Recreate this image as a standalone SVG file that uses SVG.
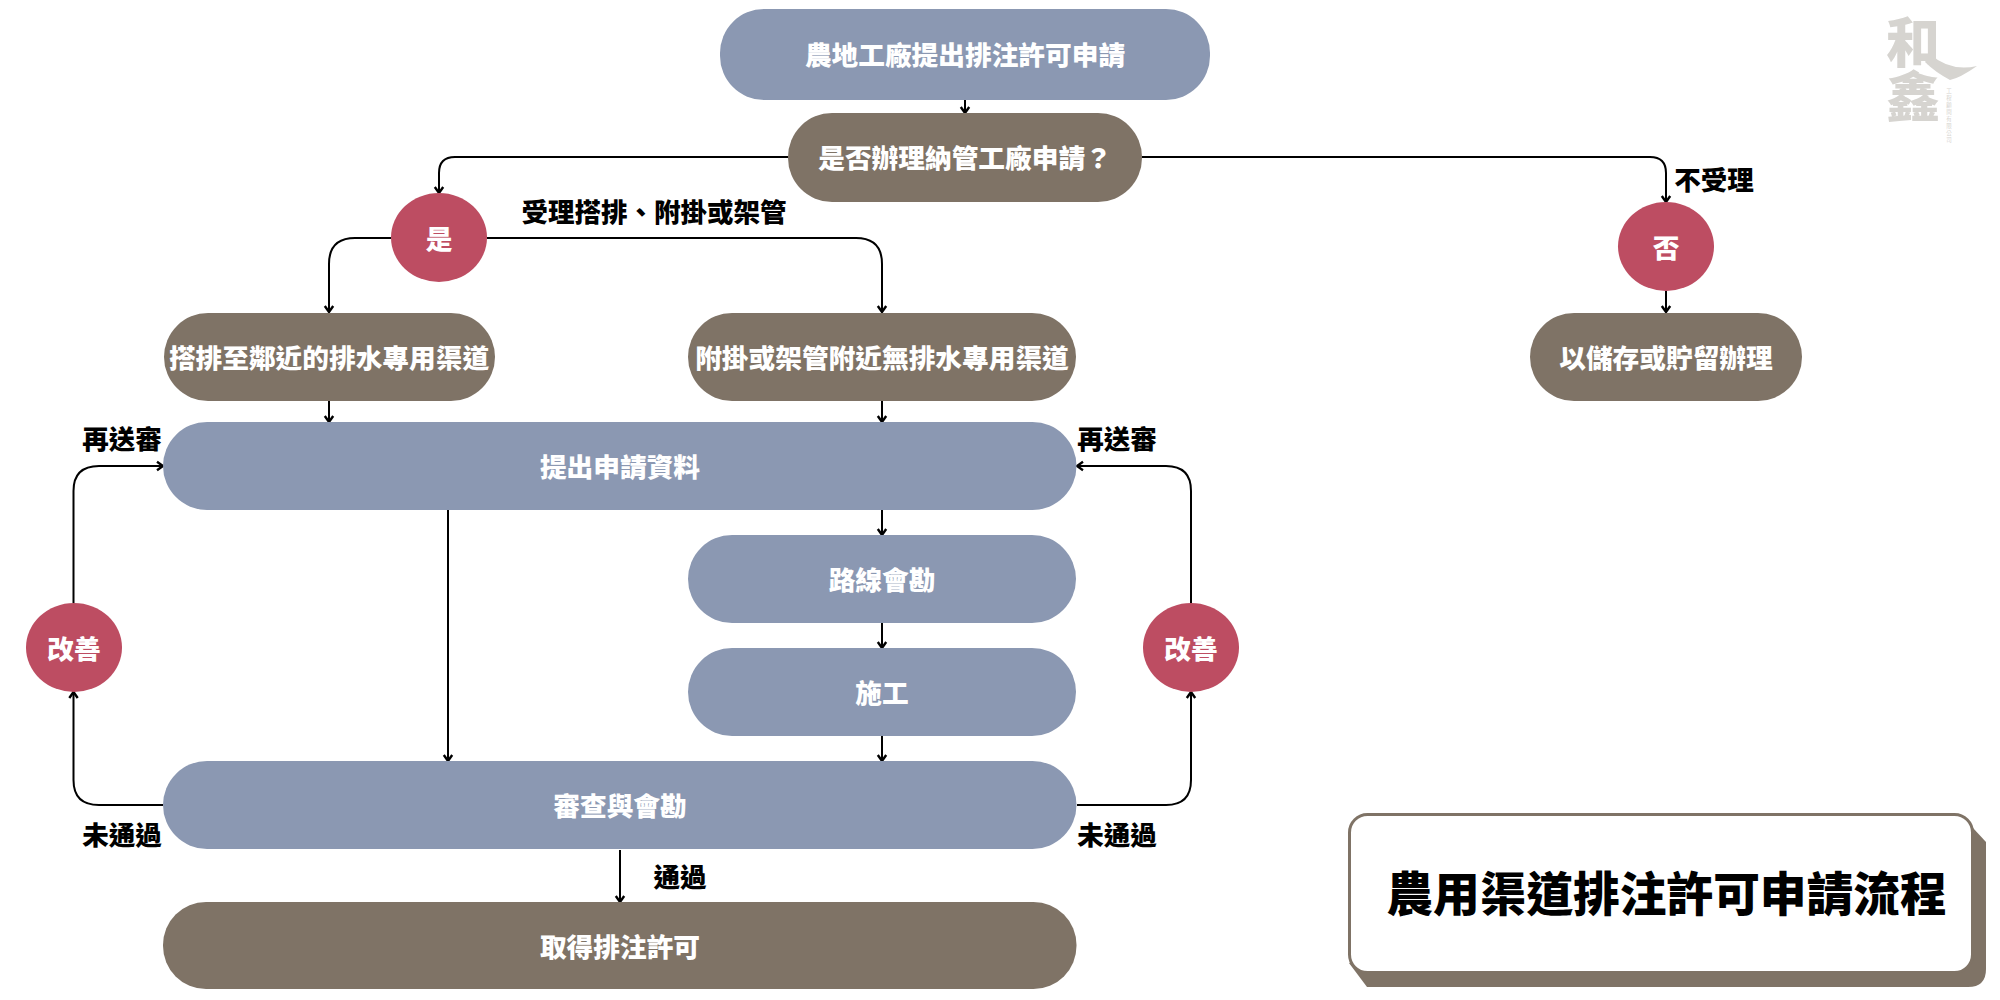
<svg xmlns="http://www.w3.org/2000/svg" width="2000" height="1000" viewBox="0 0 2000 1000">
<style>
text{font-family:"Noto Sans CJK TC","Noto Sans CJK SC",sans-serif;text-anchor:middle;dominant-baseline:central}
.w{fill:#fff;font-size:26.7px;font-weight:900}
.b{fill:#000;font-size:26.5px;font-weight:900}
.blue{fill:#8b98b2}.brown{fill:#7f7366}.red{fill:#bd4d62}
#connectors path{fill:none;stroke:#000;stroke-width:2}
.a{marker-end:url(#arrow)}
.logo{fill:#d6d4d0}
</style>
<defs>
<marker id="arrow" markerUnits="userSpaceOnUse" markerWidth="12" markerHeight="12" refX="8" refY="5" orient="auto" viewBox="0 0 10 10">
<path d="M3 1.500L8 5L3 8.500" fill="none" stroke="#000" stroke-width="2"/>
</marker>
</defs>
<rect width="2000" height="1000" fill="#fff"/>
<g id="connectors">
<path class="a" d="M965 100V113"/>
<path class="a" d="M788 157H455Q439 157 439 173V193"/>
<path class="a" d="M1142 157H1650Q1666 157 1666 173V202"/>
<path class="a" d="M1666 291V312"/>
<path class="a" d="M391 238H355Q329 238 329 264V312"/>
<path class="a" d="M487 238H856Q882 238 882 264V312"/>
<path class="a" d="M329 400V422"/>
<path class="a" d="M882 400V422"/>
<path class="a" d="M882 510V535"/>
<path class="a" d="M882 623V648"/>
<path class="a" d="M882 736V761"/>
<path class="a" d="M448 510V761"/>
<path class="a" d="M620 850V902"/>
<path class="a" d="M163 805H99Q73.500 805 73.500 780V692"/>
<path class="a" d="M73.500 603V491Q73.500 466 99 466H163"/>
<path class="a" d="M1077 805H1166Q1191 805 1191 780V692"/>
<path class="a" d="M1191 603V491Q1191 466 1166 466H1077"/>
</g>
<g id="n-start"><rect class="blue" x="720" y="9" width="490" height="91" rx="44"/><text class="w" x="965" y="53.500">農地工廠提出排注許可申請</text></g>
<g id="n-decision"><rect class="brown" x="788" y="113" width="354" height="89" rx="44"/><text class="w" x="965" y="156.500">是否辦理納管工廠申請？</text></g>
<g id="n-yes"><ellipse class="red" cx="439" cy="237.500" rx="48" ry="44.500"/><text class="w" x="439" y="237">是</text></g>
<g id="n-no"><ellipse class="red" cx="1666" cy="246.500" rx="48" ry="44.500"/><text class="w" x="1666" y="246">否</text></g>
<g id="n-a"><rect class="brown" x="164" y="313" width="331" height="88" rx="44"/><text class="w" x="329" y="356.500">搭排至鄰近的排水專用渠道</text></g>
<g id="n-b"><rect class="brown" x="688" y="313" width="388" height="88" rx="44"/><text class="w" x="882" y="356.500">附掛或架管附近無排水專用渠道</text></g>
<g id="n-c"><rect class="brown" x="1530" y="313" width="272" height="88" rx="44"/><text class="w" x="1666" y="356.500">以儲存或貯留辦理</text></g>
<g id="n-submit"><rect class="blue" x="163" y="422" width="913.500" height="88" rx="44"/><text class="w" x="620" y="465">提出申請資料</text></g>
<g id="n-route"><rect class="blue" x="688" y="535" width="388" height="88" rx="44"/><text class="w" x="882" y="578">路線會勘</text></g>
<g id="n-build"><rect class="blue" x="688" y="648" width="388" height="88" rx="44"/><text class="w" x="882" y="691">施工</text></g>
<g id="n-review"><rect class="blue" x="163" y="761" width="913.500" height="88" rx="44"/><text class="w" x="620" y="804">審查與會勘</text></g>
<g id="n-permit"><rect class="brown" x="163" y="902" width="913.500" height="87" rx="43"/><text class="w" x="620" y="945">取得排注許可</text></g>
<g id="n-fixl"><ellipse class="red" cx="74" cy="647.500" rx="48" ry="44.500"/><text class="w" x="74" y="647">改善</text></g>
<g id="n-fixr"><ellipse class="red" cx="1191" cy="647.500" rx="48" ry="44.500"/><text class="w" x="1191" y="647">改善</text></g>
<g id="labels">
<text class="b" x="654" y="210">受理搭排、附掛或架管</text>
<text class="b" x="1714" y="178">不受理</text>
<text class="b" x="122" y="437">再送審</text>
<text class="b" x="1117" y="437">再送審</text>
<text class="b" x="122" y="833">未通過</text>
<text class="b" x="1117" y="833">未通過</text>
<text class="b" x="680" y="875">通過</text>
</g>
<g id="title">
<path d="M1960 814L1986 842V969Q1986 987 1968 987H1367L1349 963Z" fill="#7f7366"/>
<rect x="1349.500" y="814.500" width="623" height="158" rx="18" fill="#fff" stroke="#7f7366" stroke-width="3"/>
<text x="1666.500" y="890" fill="#000" font-size="46.700" font-weight="900">農用渠道排注許可申請流程</text>
</g>
<g id="logo" class="logo">
<path d="M1930 54Q1950 72 1977 66Q1960 78 1950 80Q1935 72 1925 62Z"/>
<text x="1913" y="69" font-size="54" font-weight="900" fill="#d6d4d0" style="writing-mode:vertical-rl">和鑫</text>
<text x="1949" y="116" font-size="5.500" fill="#d6d4d0" style="writing-mode:vertical-rl;letter-spacing:1.500px">工程顧問有限公司</text>
</g>
</svg>
